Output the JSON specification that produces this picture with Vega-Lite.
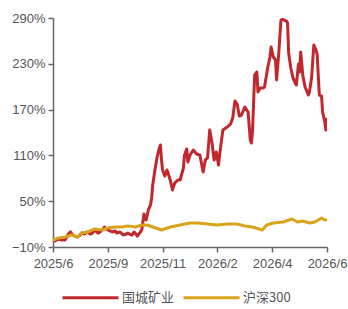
{
  "$schema": "https://vega.github.io/schema/vega-lite/v6.json",
  "width": 274,
  "height": 229,
  "autosize": {"type": "none"},
  "padding": {"left": 53, "top": 18, "right": 21, "bottom": 62},
  "background": "white",
  "config": {
    "view": {"stroke": null},
    "font": "Liberation Sans, Noto Sans CJK SC",
    "axis": {
      "domainColor": "#666666",
      "domainWidth": 1.5,
      "tickColor": "#666666",
      "tickWidth": 1.5,
      "tickSize": 5,
      "labelColor": "#555555",
      "labelFontSize": 13,
      "labelFont": "Liberation Sans",
      "grid": false,
      "title": null
    }
  },
  "data": {
    "values": [
      {"d": 0, "v": -0.8, "s": "国城矿业"},
      {"d": 2, "v": -2.1, "s": "国城矿业"},
      {"d": 5, "v": 0.5, "s": "国城矿业"},
      {"d": 8, "v": -0.8, "s": "国城矿业"},
      {"d": 11, "v": -0.8, "s": "国城矿业"},
      {"d": 14, "v": 7.0, "s": "国城矿业"},
      {"d": 16, "v": 9.7, "s": "国城矿业"},
      {"d": 18, "v": 5.7, "s": "国城矿业"},
      {"d": 22, "v": 3.1, "s": "国城矿业"},
      {"d": 25, "v": 5.7, "s": "国城矿业"},
      {"d": 26, "v": 8.3, "s": "国城矿业"},
      {"d": 29, "v": 7.0, "s": "国城矿业"},
      {"d": 31, "v": 9.7, "s": "国城矿业"},
      {"d": 34, "v": 7.0, "s": "国城矿业"},
      {"d": 36, "v": 8.3, "s": "国城矿业"},
      {"d": 38, "v": 12.3, "s": "国城矿业"},
      {"d": 41, "v": 8.3, "s": "国城矿业"},
      {"d": 43, "v": 9.7, "s": "国城矿业"},
      {"d": 46, "v": 13.6, "s": "国城矿业"},
      {"d": 47, "v": 16.2, "s": "国城矿业"},
      {"d": 50, "v": 12.3, "s": "国城矿业"},
      {"d": 54, "v": 9.7, "s": "国城矿业"},
      {"d": 57, "v": 11.0, "s": "国城矿业"},
      {"d": 58, "v": 8.3, "s": "国城矿业"},
      {"d": 61, "v": 9.7, "s": "国城矿业"},
      {"d": 64, "v": 5.7, "s": "国城矿业"},
      {"d": 67, "v": 7.0, "s": "国城矿业"},
      {"d": 68, "v": 8.3, "s": "国城矿业"},
      {"d": 72, "v": 5.7, "s": "国城矿业"},
      {"d": 74, "v": 9.7, "s": "国城矿业"},
      {"d": 77, "v": 4.4, "s": "国城矿业"},
      {"d": 79, "v": 8.3, "s": "国城矿业"},
      {"d": 81, "v": 12.3, "s": "国城矿业"},
      {"d": 83, "v": 33.2, "s": "国城矿业"},
      {"d": 85, "v": 25.4, "s": "国城矿业"},
      {"d": 87, "v": 38.5, "s": "国城矿业"},
      {"d": 89, "v": 45.0, "s": "国城矿业"},
      {"d": 90, "v": 54.2, "s": "国城矿业"},
      {"d": 91, "v": 71.2, "s": "国城矿业"},
      {"d": 93, "v": 90.9, "s": "国城矿业"},
      {"d": 95, "v": 107.9, "s": "国城矿业"},
      {"d": 97, "v": 119.7, "s": "国城矿业"},
      {"d": 98, "v": 123.6, "s": "国城矿业"},
      {"d": 99, "v": 104.0, "s": "国城矿业"},
      {"d": 100, "v": 90.9, "s": "国城矿业"},
      {"d": 102, "v": 83.0, "s": "国城矿业"},
      {"d": 104, "v": 90.9, "s": "国城矿业"},
      {"d": 107, "v": 77.8, "s": "国城矿业"},
      {"d": 109, "v": 64.7, "s": "国城矿业"},
      {"d": 111, "v": 73.8, "s": "国城矿业"},
      {"d": 114, "v": 77.8, "s": "国城矿业"},
      {"d": 116, "v": 77.8, "s": "国城矿业"},
      {"d": 119, "v": 93.5, "s": "国城矿业"},
      {"d": 120, "v": 110.5, "s": "国城矿业"},
      {"d": 122, "v": 118.4, "s": "国城矿业"},
      {"d": 123, "v": 101.4, "s": "国城矿业"},
      {"d": 125, "v": 110.5, "s": "国城矿业"},
      {"d": 128, "v": 117.1, "s": "国城矿业"},
      {"d": 131, "v": 111.8, "s": "国城矿业"},
      {"d": 134, "v": 110.5, "s": "国城矿业"},
      {"d": 137, "v": 88.3, "s": "国城矿业"},
      {"d": 139, "v": 104.0, "s": "国城矿业"},
      {"d": 141, "v": 106.6, "s": "国城矿业"},
      {"d": 143, "v": 143.3, "s": "国城矿业"},
      {"d": 145, "v": 127.6, "s": "国城矿业"},
      {"d": 147, "v": 104.0, "s": "国城矿业"},
      {"d": 149, "v": 114.5, "s": "国城矿业"},
      {"d": 151, "v": 97.4, "s": "国城矿业"},
      {"d": 152, "v": 110.5, "s": "国城矿业"},
      {"d": 155, "v": 143.3, "s": "国城矿业"},
      {"d": 159, "v": 147.2, "s": "国城矿业"},
      {"d": 162, "v": 151.1, "s": "国城矿业"},
      {"d": 164, "v": 159.0, "s": "国城矿业"},
      {"d": 166, "v": 181.3, "s": "国城矿业"},
      {"d": 168, "v": 177.3, "s": "国城矿业"},
      {"d": 170, "v": 161.6, "s": "国城矿业"},
      {"d": 172, "v": 162.9, "s": "国城矿业"},
      {"d": 175, "v": 173.4, "s": "国城矿业"},
      {"d": 178, "v": 166.9, "s": "国城矿业"},
      {"d": 180, "v": 130.2, "s": "国城矿业"},
      {"d": 181, "v": 126.2, "s": "国城矿业"},
      {"d": 182, "v": 140.7, "s": "国城矿业"},
      {"d": 184, "v": 215.3, "s": "国城矿业"},
      {"d": 186, "v": 219.3, "s": "国城矿业"},
      {"d": 187, "v": 193.0, "s": "国城矿业"},
      {"d": 189, "v": 198.3, "s": "国城矿业"},
      {"d": 192, "v": 198.3, "s": "国城矿业"},
      {"d": 193, "v": 199.6, "s": "国城矿业"},
      {"d": 196, "v": 225.8, "s": "国城矿业"},
      {"d": 198, "v": 238.9, "s": "国城矿业"},
      {"d": 199, "v": 252.0, "s": "国城矿业"},
      {"d": 201, "v": 238.9, "s": "国城矿业"},
      {"d": 203, "v": 235.0, "s": "国城矿业"},
      {"d": 204, "v": 208.8, "s": "国城矿业"},
      {"d": 206, "v": 244.1, "s": "国城矿业"},
      {"d": 208, "v": 287.4, "s": "国城矿业"},
      {"d": 210, "v": 288.0, "s": "国城矿业"},
      {"d": 213, "v": 286.0, "s": "国城矿业"},
      {"d": 214, "v": 283.4, "s": "国城矿业"},
      {"d": 215, "v": 244.1, "s": "国城矿业"},
      {"d": 217, "v": 224.5, "s": "国城矿业"},
      {"d": 219, "v": 211.4, "s": "国城矿业"},
      {"d": 222, "v": 202.2, "s": "国城矿业"},
      {"d": 224, "v": 229.7, "s": "国城矿业"},
      {"d": 225, "v": 219.3, "s": "国城矿业"},
      {"d": 226, "v": 245.5, "s": "国城矿业"},
      {"d": 228, "v": 214.0, "s": "国城矿业"},
      {"d": 230, "v": 199.6, "s": "国城矿业"},
      {"d": 233, "v": 189.1, "s": "国城矿业"},
      {"d": 234, "v": 193.0, "s": "国城矿业"},
      {"d": 236, "v": 212.7, "s": "国城矿业"},
      {"d": 238, "v": 254.6, "s": "国城矿业"},
      {"d": 240, "v": 248.0, "s": "国城矿业"},
      {"d": 241, "v": 242.8, "s": "国城矿业"},
      {"d": 243, "v": 189.1, "s": "国城矿业"},
      {"d": 245, "v": 187.8, "s": "国城矿业"},
      {"d": 246, "v": 166.9, "s": "国城矿业"},
      {"d": 248, "v": 153.8, "s": "国城矿业"},
      {"d": 249, "v": 143.3, "s": "国城矿业"},
      {"d": 250, "v": 159.0, "s": "国城矿业"},
      {"d": 0, "v": -0.8, "s": "沪深300"},
      {"d": 5, "v": 1.8, "s": "沪深300"},
      {"d": 11, "v": 3.1, "s": "沪深300"},
      {"d": 17, "v": 5.7, "s": "沪深300"},
      {"d": 22, "v": 3.1, "s": "沪深300"},
      {"d": 26, "v": 8.3, "s": "沪深300"},
      {"d": 32, "v": 9.7, "s": "沪深300"},
      {"d": 38, "v": 13.6, "s": "沪深300"},
      {"d": 45, "v": 12.3, "s": "沪深300"},
      {"d": 50, "v": 14.9, "s": "沪深300"},
      {"d": 57, "v": 16.2, "s": "沪深300"},
      {"d": 63, "v": 16.2, "s": "沪深300"},
      {"d": 68, "v": 17.5, "s": "沪深300"},
      {"d": 75, "v": 16.2, "s": "沪深300"},
      {"d": 81, "v": 18.8, "s": "沪深300"},
      {"d": 86, "v": 18.8, "s": "沪深300"},
      {"d": 91, "v": 16.2, "s": "沪深300"},
      {"d": 99, "v": 12.3, "s": "沪深300"},
      {"d": 107, "v": 16.2, "s": "沪深300"},
      {"d": 116, "v": 18.8, "s": "沪深300"},
      {"d": 125, "v": 21.4, "s": "沪深300"},
      {"d": 132, "v": 21.4, "s": "沪深300"},
      {"d": 141, "v": 20.1, "s": "沪深300"},
      {"d": 150, "v": 18.8, "s": "沪深300"},
      {"d": 159, "v": 20.1, "s": "沪深300"},
      {"d": 168, "v": 20.1, "s": "沪深300"},
      {"d": 175, "v": 17.5, "s": "沪深300"},
      {"d": 182, "v": 16.2, "s": "沪深300"},
      {"d": 191, "v": 12.3, "s": "沪深300"},
      {"d": 195, "v": 18.8, "s": "沪深300"},
      {"d": 201, "v": 21.4, "s": "沪深300"},
      {"d": 210, "v": 22.7, "s": "沪深300"},
      {"d": 218, "v": 26.7, "s": "沪深300"},
      {"d": 223, "v": 22.7, "s": "沪深300"},
      {"d": 228, "v": 24.0, "s": "沪深300"},
      {"d": 234, "v": 21.4, "s": "沪深300"},
      {"d": 239, "v": 22.7, "s": "沪深300"},
      {"d": 245, "v": 28.0, "s": "沪深300"},
      {"d": 248, "v": 25.4, "s": "沪深300"},
      {"d": 250, "v": 25.4, "s": "沪深300"}
    ]
  },
  "mark": {"type": "line", "strokeWidth": 3, "strokeJoin": "round", "clip": true},
  "encoding": {
    "x": {
      "field": "d",
      "type": "quantitative",
      "scale": {"domain": [0, 250], "nice": false, "zero": false},
      "axis": {
        "values": [0, 50, 100, 150, 200, 250],
        "labelExpr": "datum.value == 0 ? '2025/6' : datum.value == 50 ? '2025/9' : datum.value == 100 ? '2025/11' : datum.value == 150 ? '2026/2' : datum.value == 200 ? '2026/4' : '2026/6'",
        "labelPadding": 5,
        "labelFlush": false,
        "labelOverlap": false
      }
    },
    "y": {
      "field": "v",
      "type": "quantitative",
      "scale": {"domain": [-10, 290], "nice": false, "zero": false},
      "axis": {
        "values": [-10, 50, 110, 170, 230, 290],
        "format": ".0f",
        "labelExpr": "datum.label + '%'",
        "labelPadding": 3
      }
    },
    "color": {
      "field": "s",
      "type": "nominal",
      "sort": ["国城矿业", "沪深300"],
      "scale": {"domain": ["国城矿业", "沪深300"], "range": ["#C1272D", "#D9A31C"]},
      "legend": {
        "title": null,
        "orient": "none",
        "direction": "horizontal",
        "legendX": 8,
        "legendY": 250,
        "padding": 0,
        "symbolType": "stroke",
        "symbolSize": 3136,
        "symbolStrokeWidth": 3,
        "labelFontSize": 13,
        "labelColor": "#555555",
        "labelFont": "Noto Sans CJK SC",
        "labelOffset": 2,
        "columnPadding": 2
      }
    }
  }
}
